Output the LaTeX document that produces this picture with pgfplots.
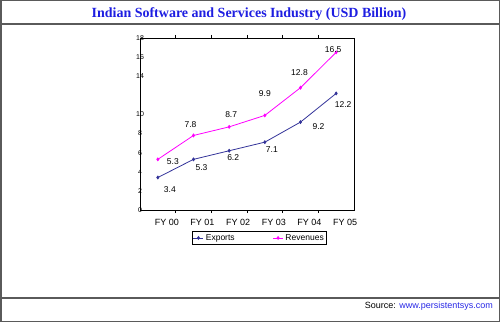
\documentclass[border=0pt]{standalone}
\usepackage{fontspec}
\setmainfont{Liberation Sans}
\newfontfamily\titlefont{Liberation Serif}
\usepackage{pgfplots}
\usepackage{pgfplotstable}
\pgfplotsset{compat=1.18}
\definecolor{titleblue}{RGB}{30,30,225}
\definecolor{expcol}{RGB}{51,51,153}
\definecolor{revcol}{RGB}{255,0,255}
\definecolor{framegray}{RGB}{90,90,90}
\definecolor{linkblue}{RGB}{40,40,230}
\pgfplotstableread{
x y dx dy
0 3.4 12 -12
1 5.3 8 -8
2 6.2 4 -7
3 7.1 7 -7
4 9.2 18 -4
5 12.2 7 -11
}\exports
\pgfplotstableread{
x y dx dy
0 5.3 15 -2
1 7.8 -3 11
2 8.7 2 12
3 9.9 0 22
4 12.8 -1 15
5 16.5 -3 3
}\revenues
\begin{document}
\begin{tikzpicture}
\useasboundingbox (0pt,0pt) rectangle (500pt,-323pt);
\draw[framegray, line width=1.5pt] (0.75pt,-0.75pt) rectangle (499.25pt,-321.5pt);
\draw[framegray, line width=2pt] (0pt,-24pt) -- (500pt,-24pt);
\draw[framegray, line width=2pt] (0pt,-298pt) -- (500pt,-298pt);
\node[text=titleblue, font=\titlefont\bfseries\fontsize{14}{16}\selectfont] at (249pt,-14pt) {Indian Software and Services Industry (USD Billion)};
\node[anchor=east, font=\fontsize{9}{10}\selectfont, inner sep=0pt] at (493pt,-306pt) {Source: \textcolor{linkblue}{www.persistentsys.com}};
\begin{axis}[
  at={(140pt,-210pt)}, anchor=south west,
  scale only axis, width=214pt, height=172pt,
  xmin=-0.5, xmax=5.5, ymin=0, ymax=18,
  xtick={0,...,5},
  xticklabels={FY 00,FY 01,FY 02,FY 03,FY 04,FY 05},
  minor xtick={0.5,1.5,2.5,3.5,4.5},
  ytick={0,2,...,18},
  yticklabels={0,2,4,6,8,10,,14,16,18},
  major tick length=0pt, minor tick length=3pt,
  tick align=outside,
  axis line style={black, line width=0.8pt},
  tick style={black, line width=0.6pt},
  /pgf/number format/assume math mode=true,
  xticklabel style={font=\fontsize{9}{10}\selectfont, xshift=9pt, yshift=-6pt},
  yticklabel style={font=\fontsize{7}{8}\selectfont, anchor=center, xshift=0pt},
  nodes near coords,
  every node near coord/.append style={font=\fontsize{8.5}{9}\selectfont, anchor=center, black},
  visualization depends on={\thisrow{dx} \as \dx},
  visualization depends on={\thisrow{dy} \as \dy},
  nodes near coords style={xshift=\dx pt, yshift=\dy pt},
  /pgf/number format/.cd, fixed, precision=1, fixed zerofill, /pgfplots/.cd,
  legend columns=2,
  legend style={at={(0.558,-0.122)}, anchor=north, draw=black, line width=0.6pt,
    font=\fontsize{8.5}{9}\selectfont, inner sep=1pt,
    /tikz/every even column/.append style={column sep=36pt}},
  legend image code/.code={\draw[#1, mark repeat=2, mark phase=2] plot coordinates {(0pt,0pt) (5pt,0pt) (10pt,0pt)};},
]
\addplot[color=expcol, line width=0.8pt, mark=diamond*, mark size=1.4pt] table[x=x,y=y] {\exports};
\addlegendentry{Exports}
\addplot[color=revcol, line width=0.8pt, mark=diamond*, mark size=1.4pt] table[x=x,y=y] {\revenues};
\addlegendentry{Revenues}
\end{axis}
\end{tikzpicture}
\end{document}
